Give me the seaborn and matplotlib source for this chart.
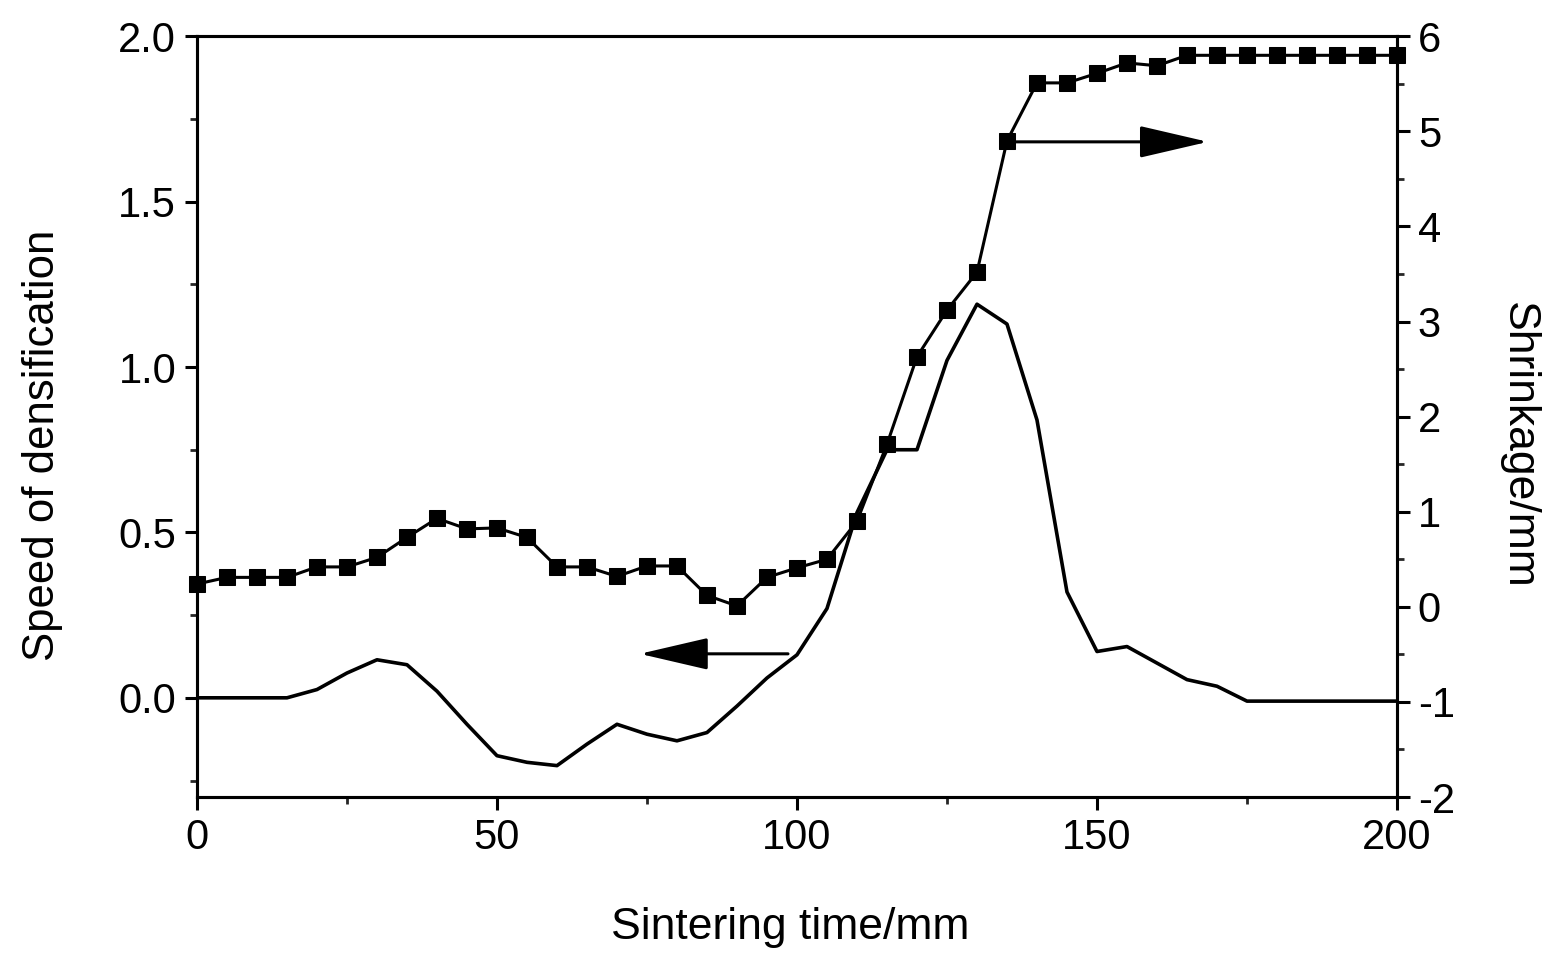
import numpy as np
import pandas as pd
import matplotlib
matplotlib.use("Agg")
import matplotlib.pyplot as plt
import seaborn as sns
from matplotlib.ticker import MultipleLocator

# ---- data ----
speed_time = [0, 5, 10, 15, 20, 25, 30, 35, 40, 45, 50, 55, 60, 65, 70, 75, 80, 85,
              90, 95, 100, 105, 110, 115, 120, 125, 130, 135, 140, 145, 150, 155,
              160, 165, 170, 175, 180, 185, 190, 195, 200]
speed_vals = [0.0, 0.0, 0.0, 0.0, 0.025, 0.075, 0.115, 0.10, 0.02, -0.08, -0.175,
              -0.195, -0.205, -0.14, -0.08, -0.11, -0.13, -0.105, -0.025, 0.06, 0.13,
              0.27, 0.56, 0.75, 0.75, 1.02, 1.19, 1.13, 0.84, 0.32, 0.14, 0.155,
              0.105, 0.055, 0.035, -0.01, -0.01, -0.01, -0.01, -0.01, -0.01]

shrink_time = list(range(0, 201, 5))
shrink_vals = [0.24, 0.31, 0.31, 0.31, 0.42, 0.42, 0.52, 0.73, 0.93, 0.82, 0.83,
               0.73, 0.42, 0.42, 0.32, 0.43, 0.43, 0.12, 0.01, 0.31, 0.41, 0.50,
               0.90, 1.71, 2.63, 3.12, 3.52, 4.90, 5.51, 5.51, 5.61, 5.72, 5.69,
               5.80, 5.80, 5.80, 5.80, 5.80, 5.80, 5.80, 5.80]

x_ticks = [0, 50, 100, 150, 200]
left_ticks = [0.0, 0.5, 1.0, 1.5, 2.0]
right_ticks = [-2, -1, 0, 1, 2, 3, 4, 5, 6]

speed_df = pd.DataFrame({"t": speed_time, "v": speed_vals})
shrink_df = pd.DataFrame({"t": shrink_time, "s": shrink_vals})

sns.set_style("ticks")
plt.rcParams["font.family"] = ["Liberation Sans", "DejaVu Sans"]
plt.rcParams["text.color"] = "black"
plt.rcParams["axes.labelcolor"] = "black"

fig = plt.figure(figsize=(15.51, 9.55), dpi=100)
ax = fig.add_axes([0.127, 0.1654, 0.7737, 0.7966])
ax2 = ax.twinx()

sns.lineplot(data=speed_df, x="t", y="v", ax=ax, color="black", lw=2.6)
sns.lineplot(data=shrink_df, x="t", y="s", ax=ax2, color="black", lw=2.2,
             marker="s", markersize=11, markeredgecolor="black",
             markerfacecolor="black", clip_on=False)

ax.set_xlim(0, 200)
ax.set_ylim(-0.3, 2.0)
ax2.set_ylim(-2, 6)

ax.set_xticks(x_ticks)
ax.set_yticks(left_ticks)
ax2.set_yticks(right_ticks)
ax.set_xticklabels([str(v) for v in x_ticks])
ax.set_yticklabels([f"{v:.1f}" for v in left_ticks])
ax2.set_yticklabels([str(v) for v in right_ticks])
ax.xaxis.set_minor_locator(MultipleLocator(25))
ax.yaxis.set_minor_locator(MultipleLocator(0.25))
ax2.yaxis.set_minor_locator(MultipleLocator(0.5))

for a in (ax, ax2):
    for sp in a.spines.values():
        sp.set_visible(True)
        sp.set_linewidth(2.2)
        sp.set_color("black")

ax.tick_params(axis="both", which="major", direction="out", length=9, width=2.2,
               labelsize=30, colors="black", pad=6)
ax.tick_params(axis="both", which="minor", direction="out", length=5, width=2.0)
ax.tick_params(axis="x", which="both", top=False)
ax.tick_params(axis="y", which="both", right=False)
ax2.tick_params(axis="y", which="major", direction="out", length=9, width=2.2,
                labelsize=30, colors="black", pad=6)
ax2.tick_params(axis="y", which="minor", direction="out", length=5, width=2.0)

ax.set_xlabel("Sintering time/mm", fontsize=32, color="black")
ax.set_ylabel("Speed of densification", fontsize=31.5, color="black")
ax2.set_ylabel("Shrinkage/mm", fontsize=32, rotation=-90, color="black")
ax.xaxis.set_label_coords(0.494, -0.145)
ax.yaxis.set_label_coords(-0.112, 0.4625)
ax2.yaxis.set_label_coords(1.118, 0.4625)

# arrows
ax.annotate("", xy=(73.8, 0.133), xytext=(98.5, 0.133), xycoords="data",
            arrowprops=dict(arrowstyle="-|>,head_length=43,head_width=10",
                            mutation_scale=1, color="black", lw=2.2,
                            shrinkA=0, shrinkB=0))
ax2.annotate("", xy=(168.5, 4.89), xytext=(135.5, 4.89), xycoords="data",
             arrowprops=dict(arrowstyle="-|>,head_length=43,head_width=10",
                             mutation_scale=1, color="black", lw=2.2,
                             shrinkA=0, shrinkB=0))

fig.savefig("out.png", dpi=100, facecolor="white")
